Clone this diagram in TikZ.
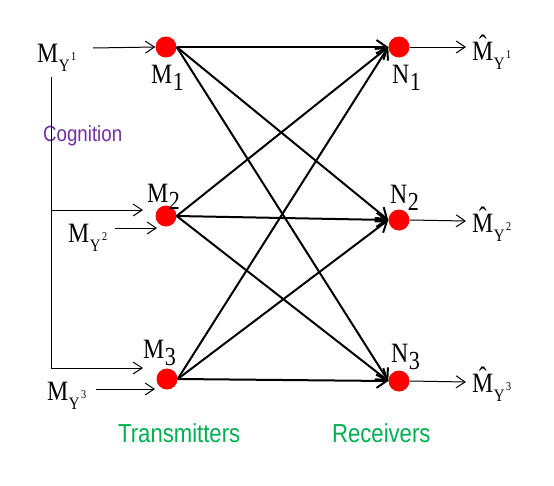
\documentclass[tikz,border=0pt]{standalone}
\usepackage{fontspec}
\setmainfont{Liberation Serif}[FakeStretch=0.85]
\newfontfamily\lsans{Liberation Sans}[FakeStretch=0.85]
\usetikzlibrary{arrows.meta}
\definecolor{dotred}{RGB}{255,0,0}
\definecolor{cogpurple}{RGB}{112,48,160}
\definecolor{labgreen}{RGB}{0,176,80}
\newcommand{\SubLab}[2]{{\fontsize{28}{28}\selectfont #1\kern0.5pt\raisebox{-7pt}{\fontsize{26}{26}\selectfont #2}}}
\newcommand{\InLab}[2]{{\fontsize{28}{28}\selectfont #1}\kern0.5pt{\fontsize{17.5}{17.5}\selectfont\raisebox{-9pt}{Y}}\kern1.5pt{\fontsize{12}{12}\selectfont\raisebox{2pt}{#2}}}
\begin{document}
\begin{tikzpicture}[x=1pt,y=-1pt,
  dot/.style={circle,fill=dotred,draw=none,minimum size=21pt,inner sep=0pt},
  lab/.style={inner sep=0pt,anchor=base west},
  grn/.style={inner sep=0pt,anchor=base west,text=labgreen,font=\lsans\fontsize{26}{26}\selectfont},
  cog/.style={inner sep=0pt,anchor=base west,text=cogpurple,font=\lsans\fontsize{22}{22}\selectfont},
  thin/.style={line width=1pt,-{Straight Barb[length=9pt,width=12pt,line width=1pt]}},
  link/.style={line width=2pt,-{Straight Barb[length=10pt,width=14pt,line width=2pt]}}]
\useasboundingbox (0,0) rectangle (554,485);
% dots
\node[dot] (M1) at (166,47) {};
\node[dot] (M2) at (166,216) {};
\node[dot] (M3) at (167,379) {};
\node[dot] (N1) at (399,47) {};
\node[dot] (N2) at (399,220) {};
\node[dot] (N3) at (399,381) {};
% labels
\node[lab] (lM1) at (151,83) {\SubLab{M}{1}};
\node[lab] (lM2) at (147,202) {\SubLab{M}{2}};
\node[lab] (lM3) at (143,358) {\SubLab{M}{3}};
\node[lab] (lN1) at (392,83) {\SubLab{N}{1}};
\node[lab] (lN2) at (390,203) {\SubLab{N}{2}};
\node[lab] (lN3) at (391,362) {\SubLab{N}{3}};
\node[lab] (in1) at (37,62) {\InLab{M}{1}};
\node[lab] (in2) at (68,242) {\InLab{M}{2}};
\node[lab] (in3) at (47,400) {\InLab{M}{3}};
\node[lab] (out1) at (472,60) {\InLab{\^{M}}{1}};
\node[lab] (out2) at (472,232) {\InLab{\^{M}}{2}};
\node[lab] (out3) at (472,392) {\InLab{\^{M}}{3}};
\node[cog] (cog) at (43,141) {Cognition};
\node[grn] (tx) at (118,442) {Transmitters};
\node[grn] (rx) at (332,442) {Receivers};
% coordinates for input arrows
\coordinate (a1s) at (93,48);
\coordinate (a2s) at (115,228);
\coordinate (a2e) at (157,228);
\coordinate (a3s) at (96,389);
\coordinate (a3e) at (155,389);
\coordinate (vt) at (51,77);
\coordinate (vm) at (51,210);
\coordinate (vb) at (51,368);
\coordinate (bm) at (143,210);
\coordinate (bb) at (143,368);
\coordinate (o1) at (466,47);
\coordinate (o2) at (466,221);
\coordinate (o3) at (466,382);
% thin arrows
\draw[thin] (a1s) -- (M1.west);
\draw[thin] (a2s) -- (a2e);
\draw[thin] (a3s) -- (a3e);
\draw[line width=1pt] (vt) -- (vb);
\draw[thin] (vm) -- (bm);
\draw[thin] (vb) -- (bb);
\draw[thin] (N1.east) -- (o1);
\draw[thin] (N2.east) -- (o2);
\draw[thin] (N3.east) -- (o3);
% links
\foreach \i in {1,2,3}{
  \foreach \j in {1,2,3}{
    \draw[link] (M\i.east) -- (N\j.west);
  }
}
\end{tikzpicture}
\end{document}
